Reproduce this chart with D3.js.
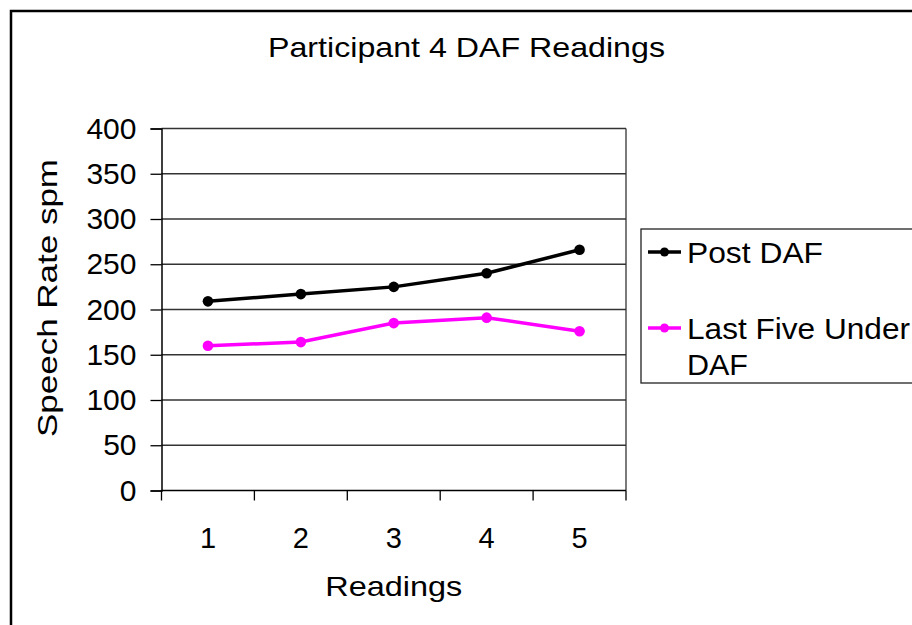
<!DOCTYPE html>
<html lang="en">

<head>
  <meta charset="UTF-8" />
  <title>Participant 4 DAF Readings</title>
  <script src="https://d3js.org/d3.v7.js"></script>
  <style>
    body { margin: 0; background: #fff; }
    svg { display: block; font-family: "Liberation Sans", Arial, sans-serif; }
  </style>
</head>

<body>
  <svg></svg>
</body>

<script>
  // chart data
  const readings = ['1', '2', '3', '4', '5'];
  const postDaf = [209, 217, 225, 240, 266];
  const lastFiveUnderDaf = [160, 164, 185, 191, 176];
  const yTicks = [0, 50, 100, 150, 200, 250, 300, 350, 400];

  const width = 912, height = 625;
  const svg = d3.select('svg').attr('width', width).attr('height', height);

  // the original text is a bit wider than Liberation Sans, so stretch it
  function label(sel, txt, size, len) {
    const t = sel.append('text').attr('font-size', size).text(txt);
    if (len) t.attr('textLength', len).attr('lengthAdjust', 'spacingAndGlyphs');
    return t;
  }

  // outer chart border (runs off the right and bottom edge)
  svg.append('rect')
    .attr('x', 11).attr('y', 11)
    .attr('width', width + 20).attr('height', height + 20)
    .attr('fill', 'none').attr('stroke', '#000').attr('stroke-width', 2.5);

  const plot = { left: 161.5, right: 626, top: 128.5, bottom: 490.5 };

  const xScale = d3.scaleBand().domain(readings).range([plot.left, plot.right]);
  const yScale = d3.scaleLinear().domain([0, 400]).range([plot.bottom, plot.top]);

  // gridlines
  svg.append('g')
    .selectAll('line')
    .data(yTicks.filter(d => d > 0))
    .join('line')
    .attr('x1', plot.left).attr('x2', plot.right)
    .attr('y1', d => yScale(d)).attr('y2', d => yScale(d))
    .attr('stroke', '#333').attr('stroke-width', 1.3);

  // right border of plot
  svg.append('line')
    .attr('x1', plot.right).attr('x2', plot.right)
    .attr('y1', plot.top).attr('y2', plot.bottom)
    .attr('stroke', '#333').attr('stroke-width', 1.3);

  // y axis
  const yAxis = d3.axisLeft(yScale).tickValues(yTicks).tickSize(11).tickPadding(14);
  const gy = svg.append('g')
    .attr('transform', 'translate(' + plot.left + ',0)')
    .call(yAxis);
  gy.select('.domain').attr('stroke', '#000').attr('stroke-width', 1.5);
  gy.selectAll('.tick line').attr('stroke', '#000').attr('stroke-width', 1.3);
  gy.selectAll('.tick text').attr('font-size', 30).attr('fill', '#000')
    .attr('font-family', '"Liberation Sans", Arial, sans-serif');

  // x axis: ticks on category boundaries, labels in the band centres
  const gx = svg.append('g').attr('transform', 'translate(0,' + plot.bottom + ')');
  gx.append('line')
    .attr('x1', plot.left).attr('x2', plot.right)
    .attr('stroke', '#000').attr('stroke-width', 1.5);
  const bounds = readings.map(d => xScale(d)).concat([xScale.range()[1]]);
  gx.selectAll('.xtick')
    .data(bounds)
    .join('line')
    .classed('xtick', true)
    .attr('x1', d => d).attr('x2', d => d)
    .attr('y1', 0).attr('y2', 10)
    .attr('stroke', '#000').attr('stroke-width', 1.3);
  gx.selectAll('.xlabel')
    .data(readings)
    .join('text')
    .classed('xlabel', true)
    .attr('x', d => xScale(d) + xScale.bandwidth() / 2)
    .attr('y', 57.5)
    .attr('text-anchor', 'middle')
    .attr('font-size', 29)
    .text(d => d);

  // series
  const series = [
    { name: 'Post DAF', values: postDaf, color: '#000000' },
    { name: 'Last Five Under DAF', values: lastFiveUnderDaf, color: '#FF00FF' }
  ];

  const line = d3.line()
    .x((d, i) => xScale(readings[i]) + xScale.bandwidth() / 2)
    .y(d => yScale(d));

  series.forEach(s => {
    svg.append('path')
      .datum(s.values)
      .attr('d', line)
      .attr('fill', 'none')
      .attr('stroke', s.color)
      .attr('stroke-width', 3.5);
    svg.append('g')
      .selectAll('circle')
      .data(s.values)
      .join('circle')
      .attr('cx', (d, i) => xScale(readings[i]) + xScale.bandwidth() / 2)
      .attr('cy', d => yScale(d))
      .attr('r', 5.3)
      .attr('fill', s.color);
  });

  // title
  label(svg, 'Participant 4 DAF Readings', 28, 397)
    .attr('x', 268).attr('y', 57);

  // axis titles
  label(svg, 'Readings', 28, 137)
    .attr('x', (plot.left + plot.right) / 2 - 68.5).attr('y', 596);

  label(svg, 'Speech Rate spm', 28, 278)
    .attr('transform', 'translate(57,437) rotate(-90)');

  // legend
  const legend = svg.append('g');
  legend.append('rect')
    .attr('x', 641).attr('y', 229)
    .attr('width', 300).attr('height', 154)
    .attr('fill', '#fff').attr('stroke', '#222').attr('stroke-width', 1.3);

  const legendRows = [
    { s: series[0], y: 252, lines: [['Post DAF', 136]] },
    { s: series[1], y: 328, lines: [['Last Five Under', 223], ['DAF', 61]] }
  ];
  legendRows.forEach(r => {
    legend.append('line')
      .attr('x1', 648).attr('x2', 681)
      .attr('y1', r.y).attr('y2', r.y)
      .attr('stroke', r.s.color).attr('stroke-width', 3.5);
    legend.append('circle')
      .attr('cx', 664.5).attr('cy', r.y).attr('r', 4.5)
      .attr('fill', r.s.color);
    r.lines.forEach((t, i) => {
      label(legend, t[0], 30, t[1])
        .attr('x', 687).attr('y', r.y + 11 + i * 36);
    });
  });
</script>

</html>
